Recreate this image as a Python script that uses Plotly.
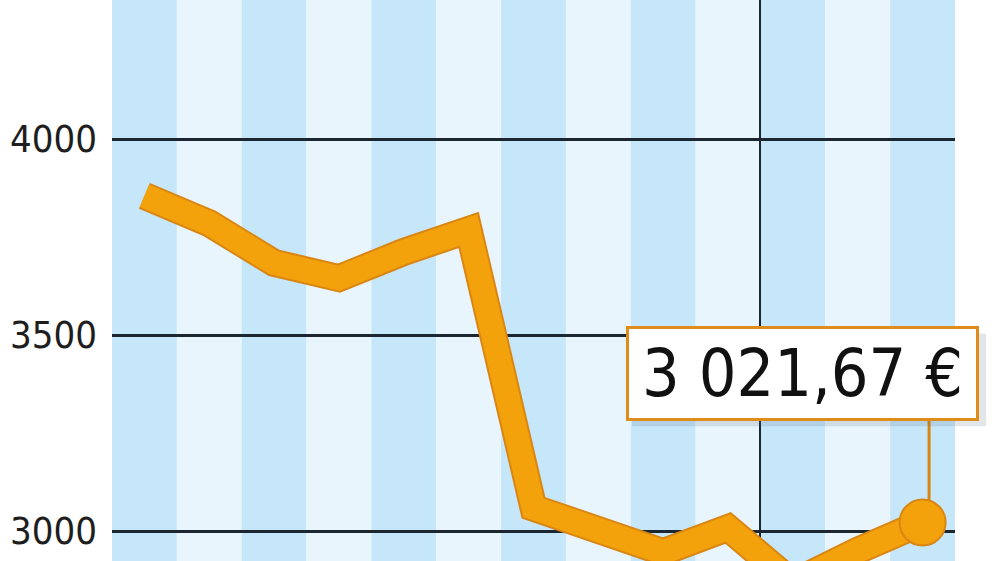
import plotly.graph_objects as go

# monthly points, one per stripe
months = list(range(13))
values = [3855, 3785, 3684, 3645, 3712, 3768, 3059, 3003, 2946, 3008, 2868, 2950, 3021.67]

y_ticks = [3000, 3500, 4000]
y_tick_labels = ["3000", "3500", "4000"]
last_label = "3 021,67 €"

dark_stripe = "#c6e6f9"
light_stripe = "#e8f5fd"
orange = "#f4a20c"
orange_edge = "#d98612"
grid_col = "#1b2631"
narrow = "DejaVu Sans Condensed, Liberation Sans Narrow, sans-serif"

fig = go.Figure()

# outline + fill of the thick line
fig.add_trace(go.Scatter(x=months, y=values, mode="lines",
                         line=dict(color=orange_edge, width=28), hoverinfo="skip"))
fig.add_trace(go.Scatter(x=months, y=values, mode="lines",
                         line=dict(color=orange, width=24), hoverinfo="skip"))
# end point marker
fig.add_trace(go.Scatter(x=months[-1:], y=values[-1:], mode="markers",
                         marker=dict(size=46, color=orange,
                                     line=dict(color=orange_edge, width=2)),
                         hoverinfo="skip"))

# background stripes
for m in months:
    fig.add_shape(type="rect", xref="x", yref="paper",
                  x0=m - 0.5, x1=m + 0.5, y0=0, y1=1,
                  fillcolor=dark_stripe if m % 2 == 0 else light_stripe,
                  line_width=0, layer="below")

# connector from label box down to the last point
fig.add_shape(type="line", xref="x", yref="y",
              x0=months[-1] + 0.1, x1=months[-1] + 0.1,
              y0=values[-1], y1=3380,
              line=dict(color=orange_edge, width=3), layer="below")

# soft shadow just behind the value box
fig.add_shape(type="rect", xref="paper", yref="paper",
              x0=0.617, x1=1.037, y0=0.240, y1=0.405,
              fillcolor="rgba(80,100,120,0.16)", line_width=0, layer="above")

fig.add_annotation(x=10.155, y=3403, xref="x", yref="y",
                   text=last_label, showarrow=False,
                   xanchor="center", yanchor="middle",
                   width=345, height=87, borderpad=1,
                   bgcolor="white", bordercolor="#e08c1a", borderwidth=3,
                   font=dict(family=narrow, size=66, color="#111111"))

fig.update_layout(
    width=1000, height=561,
    margin=dict(l=112, r=45, t=0, b=0, autoexpand=False),
    paper_bgcolor="white", plot_bgcolor="white",
    showlegend=False,
    xaxis=dict(range=[-0.5, 12.5], tickvals=[9.5], showticklabels=False,
               showgrid=True, gridcolor=grid_col, gridwidth=2,
               zeroline=False, showline=False, ticks="", automargin=False),
    yaxis=dict(range=[2923.5, 4354.6], tickvals=y_ticks, ticktext=y_tick_labels,
               showgrid=True, gridcolor=grid_col, gridwidth=2.5,
               zeroline=False, showline=False, ticks="", automargin=False,
               ticklabelstandoff=14,
               tickfont=dict(family=narrow, size=38, color="#1e1e1e")),
)

# page body has a default 8px margin; drop it so the chart sits at the corner
fig.write_html("out.html", config={"displayModeBar": False},
               post_script="document.body.style.margin='0';")
